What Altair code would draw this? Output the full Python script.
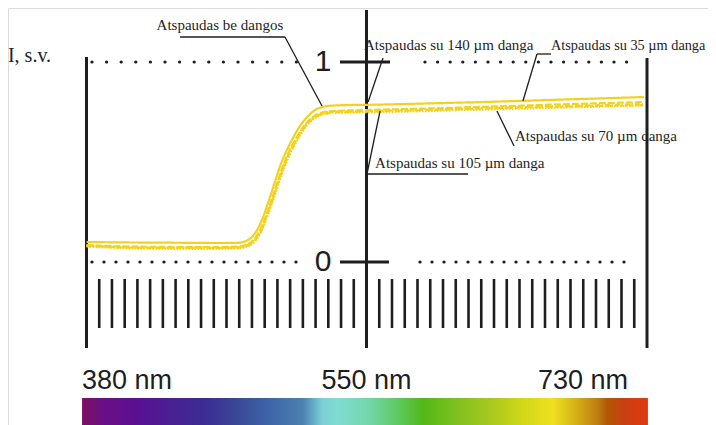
import altair as alt
import pandas as pd

# ---------------- data ----------------
wavelength = [380, 400, 420, 440, 460, 472, 478, 482, 486, 490, 494, 498, 502, 506, 510,
              514, 518, 522, 526, 532, 540, 550, 575, 600, 625, 650, 675, 700, 728]
be_dangos = [0.100, 0.098, 0.097, 0.096, 0.095, 0.096, 0.11, 0.14, 0.20, 0.29, 0.39, 0.49, 0.565, 0.63, 0.685,
             0.725, 0.755, 0.772, 0.780, 0.783, 0.785, 0.786, 0.79, 0.795, 0.80, 0.806, 0.812, 0.818, 0.825]
su_35 = [0.085, 0.078, 0.076, 0.075, 0.075, 0.077, 0.09, 0.115, 0.17, 0.255, 0.35, 0.45, 0.535, 0.60, 0.655,
         0.70, 0.728, 0.745, 0.752, 0.756, 0.758, 0.76, 0.765, 0.77, 0.776, 0.782, 0.788, 0.794, 0.80]
su_70 = [0.08, 0.073, 0.07, 0.07, 0.07, 0.072, 0.083, 0.105, 0.155, 0.24, 0.335, 0.435, 0.52, 0.588, 0.645,
         0.69, 0.72, 0.737, 0.745, 0.749, 0.75, 0.752, 0.757, 0.762, 0.768, 0.774, 0.779, 0.784, 0.79]
su_105 = [0.078, 0.07, 0.066, 0.065, 0.066, 0.068, 0.078, 0.10, 0.15, 0.232, 0.325, 0.425, 0.51, 0.58, 0.638,
          0.684, 0.715, 0.733, 0.741, 0.745, 0.747, 0.748, 0.752, 0.757, 0.762, 0.767, 0.772, 0.777, 0.782]
su_140 = [0.082, 0.075, 0.072, 0.072, 0.071, 0.073, 0.085, 0.11, 0.16, 0.245, 0.34, 0.44, 0.525, 0.592, 0.648,
          0.694, 0.722, 0.74, 0.748, 0.752, 0.754, 0.755, 0.759, 0.763, 0.768, 0.772, 0.776, 0.78, 0.785]

series_names = ["be dangos", "35", "70", "105", "140"]
series_values = [be_dangos, su_35, su_70, su_105, su_140]
series_dash = [[1, 0], [7, 2], [5, 2, 1, 2], [1.5, 1.5], [3, 2]]

axis_labels = ["380 nm", "550 nm", "730 nm"]
y_labels = ["0", "1"]
ann_texts = ["Atspaudas be dangos", "Atspaudas su 140 \u00b5m danga", "Atspaudas su 105 \u00b5m danga",
             "Atspaudas su 70 \u00b5m danga", "Atspaudas su 35 \u00b5m danga"]

spectrum_colors = ["#7a1060", "#6a0f85", "#5a1092", "#4a2092", "#3b2b92", "#3a4898", "#3e66a8", "#4a80b0",
                   "#7ccfd6", "#80dcd2", "#72d6a8", "#5cc85a", "#52b818", "#80c020", "#a8c820", "#d0d818",
                   "#f0e020", "#d8b818", "#c08010", "#b05808", "#c84010", "#e03a10"]
spectrum_offsets = [0, 0.037, 0.097, 0.155, 0.214, 0.274, 0.332, 0.39, 0.424, 0.45, 0.509, 0.562, 0.602,
                    0.663, 0.721, 0.779, 0.832, 0.867, 0.91, 0.928, 0.956, 1.0]

# decorative scale ticks (22 equal steps on each half)
tick_nm = [380 + i * 170 / 22 for i in range(1, 22)] + [550 + i * 180 / 22 for i in range(1, 22)]

# ---------------- scales ----------------
xs = alt.Scale(domain=[380, 550, 730], range=[78.5, 358.5, 639], zero=False, nice=False)
ys = alt.Scale(domain=[0, 1], range=[254, 54], zero=False, nice=False)


def X(f):
    return alt.X(f, type="quantitative", scale=xs, axis=None)


def Y(f):
    return alt.Y(f, type="quantitative", scale=ys, axis=None)


INK = "#1e1e1e"
YELLOW = "#f2d21e"

layers = []

# spectrum bar
grad = {"gradient": "linear", "x1": 0, "x2": 1, "y1": 0, "y2": 0,
        "stops": [{"offset": o, "color": c} for o, c in zip(spectrum_offsets, spectrum_colors)]}
bar_df = pd.DataFrame({"x": [377.3], "x2": [730.6], "y": [-0.68], "y2": [-0.95]})
layers.append(alt.Chart(bar_df).mark_rect(fill=grad).encode(x=X("x"), x2="x2", y=Y("y"), y2="y2"))

# short ticks
tick_df = pd.DataFrame({"x": tick_nm, "y": [-0.085] * len(tick_nm), "y2": [-0.33] * len(tick_nm)})
layers.append(alt.Chart(tick_df).mark_rule(color=INK, strokeWidth=2.6).encode(x=X("x"), y=Y("y"), y2="y2"))

# main vertical lines
vl_df = pd.DataFrame({"x": [380, 550, 730], "y": [1.025, 1.26, 1.02], "y2": [-0.43, -0.43, -0.43]})
layers.append(alt.Chart(vl_df).mark_rule(color=INK, strokeWidth=3).encode(x=X("x"), y=Y("y"), y2="y2"))

# horizontal solid ticks at 0 and 1
hl_df = pd.DataFrame({"x": [533.9, 533.9], "x2": [565.1, 564.4], "y": [1, 0]})
layers.append(alt.Chart(hl_df).mark_rule(color=INK, strokeWidth=3).encode(x=X("x"), x2="x2", y=Y("y")))

# dotted lines
dot_df = pd.DataFrame({"x": [383.3, 587.5, 383.3, 584.3], "x2": [515.7, 724.2, 513.9, 721.6],
                       "y": [1, 1, 0, 0], "g": [14.5, 12.5, 11.9, 11.9]})
for gap in [14.5, 12.5, 11.9]:
    layers.append(alt.Chart(dot_df[dot_df.g == gap]).mark_rule(
        color=INK, strokeWidth=3.2, strokeCap="round", strokeDash=[0.1, gap]
    ).encode(x=X("x"), x2="x2", y=Y("y")))

# curves
rows = []
for name, vals in zip(series_names, series_values):
    for w, v in zip(wavelength, vals):
        rows.append({"wl": w, "v": v, "s": name})
curve_df = pd.DataFrame(rows)
for name, dash in zip(series_names[::-1], series_dash[::-1]):
    layers.append(
        alt.Chart(curve_df).transform_filter(alt.datum.s == name)
        .mark_line(color=YELLOW, strokeWidth=2.2, strokeDash=dash, interpolate="monotone")
        .encode(x=X("wl"), y=Y("v"))
    )

# leader lines
lead_df = pd.DataFrame({
    "x":  [436.8, 500.5, 560.6, 550.3, 550.3, 668.4, 659.4, 633.7],
    "y":  [1.125, 1.125, 1.02, 0.44, 0.44, 1.04, 1.04, 0.755],
    "x2": [500.5, 523.0, 551.0, 615.1, 558.7, 659.4, 650.4, 644.7],
    "y2": [1.125, 0.78, 0.80, 0.44, 0.755, 1.04, 0.805, 0.58],
})
layers.append(alt.Chart(lead_df).mark_rule(color=INK, strokeWidth=1.3).encode(
    x=X("x"), x2="x2", y=Y("y"), y2="y2"))

# annotation texts
ann_df = pd.DataFrame({"x": [461.0, 548.5, 555.5, 645.3, 668.4], "y": [1.16, 1.06, 0.47, 0.605, 1.06],
                       "t": ann_texts})
layers.append(alt.Chart(ann_df.iloc[:1]).mark_text(font="Liberation Serif", fontSize=15, color=INK,
                                                   align="center", baseline="alphabetic").encode(
    x=X("x"), y=Y("y"), text="t"))
layers.append(alt.Chart(ann_df.iloc[1:4]).mark_text(font="Liberation Serif", fontSize=15, color=INK,
                                                    align="left", baseline="alphabetic").encode(
    x=X("x"), y=Y("y"), text="t"))
layers.append(alt.Chart(ann_df.iloc[4:]).mark_text(font="Liberation Serif", fontSize=14.3, color=INK,
                                                   align="left", baseline="alphabetic").encode(
    x=X("x"), y=Y("y"), text="t"))

# y unit label
ttl_df = pd.DataFrame({"x": [332.3], "y": [1.0], "t": ["I, s.v."]})
layers.append(alt.Chart(ttl_df).mark_text(font="Liberation Serif", fontSize=20, color=INK,
                                          align="left", baseline="alphabetic").encode(
    x=X("x"), y=Y("y"), text="t"))

# 0 / 1 labels
yl_df = pd.DataFrame({"x": [523.6, 523.6], "y": [0, 1], "t": y_labels})
layers.append(alt.Chart(yl_df).mark_text(font="Liberation Sans", fontSize=30, color=INK,
                                         align="center", baseline="middle").encode(
    x=X("x"), y=Y("y"), text="t"))

# wavelength labels
xl_df = pd.DataFrame({"x": [377.3, 550, 717.8], "y": [-0.635] * 3, "t": axis_labels})
for i, al in enumerate(["left", "center", "right"]):
    layers.append(alt.Chart(xl_df.iloc[i:i + 1]).mark_text(font="Liberation Sans", fontSize=27, color=INK,
                                                           align=al, baseline="alphabetic").encode(
        x=X("x"), y=Y("y"), text="t"))

chart = alt.layer(*layers).properties(
    width=700, height=417, padding=0, autosize=alt.AutoSizeParams(type="none")
).configure_view(stroke=None).configure(background="white")

chart.save("out.html", embed_options={"renderer": "svg", "actions": False})
